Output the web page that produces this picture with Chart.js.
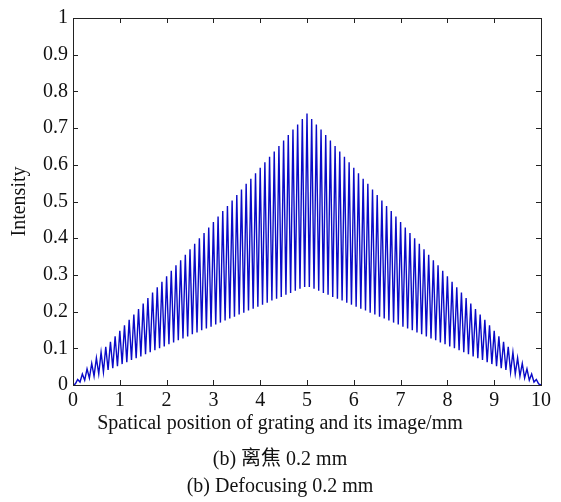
<!DOCTYPE html>
<html>
<head>
<meta charset="utf-8">
<script src="https://cdn.jsdelivr.net/npm/chart.js@4.4.1/dist/chart.umd.min.js"></script>
<style>
  body { margin: 0; background: #fff; }
  canvas { display: block; }
</style>
</head>
<body>
<canvas id="myChart" width="561" height="502"></canvas>
<script>
// fringe maxima (bright lines) and minima
const peakPos = [0, 0.1, 0.2, 0.3, 0.4, 0.5, 0.6, 0.7, 0.8, 0.9, 1, 1.1, 1.2, 1.3, 1.4, 1.5, 1.6, 1.7, 1.8, 1.9,
  2, 2.1, 2.2, 2.3, 2.4, 2.5, 2.6, 2.7, 2.8, 2.9, 3, 3.1, 3.2, 3.3, 3.4, 3.5, 3.6, 3.7, 3.8, 3.9,
  4, 4.1, 4.2, 4.3, 4.4, 4.5, 4.6, 4.7, 4.8, 4.9, 5, 5.1, 5.2, 5.3, 5.4, 5.5, 5.6, 5.7, 5.8, 5.9,
  6, 6.1, 6.2, 6.3, 6.4, 6.5, 6.6, 6.7, 6.8, 6.9, 7, 7.1, 7.2, 7.3, 7.4, 7.5, 7.6, 7.7, 7.8, 7.9,
  8, 8.1, 8.2, 8.3, 8.4, 8.5, 8.6, 8.7, 8.8, 8.9, 9, 9.1, 9.2, 9.3, 9.4, 9.5, 9.6, 9.7, 9.8, 9.9, 10];
const peakVal = [0, 0.015, 0.030, 0.044, 0.059, 0.074, 0.089, 0.104, 0.118, 0.133, 0.148, 0.163, 0.178, 0.192, 0.207, 0.222, 0.237, 0.252, 0.266, 0.281,
  0.296, 0.311, 0.326, 0.340, 0.355, 0.370, 0.385, 0.400, 0.414, 0.429, 0.444, 0.459, 0.474, 0.488, 0.503, 0.518, 0.533, 0.548, 0.562, 0.577,
  0.592, 0.607, 0.622, 0.636, 0.651, 0.666, 0.681, 0.696, 0.710, 0.725, 0.740, 0.725, 0.710, 0.696, 0.681, 0.666, 0.651, 0.636, 0.622, 0.607,
  0.592, 0.577, 0.562, 0.548, 0.533, 0.518, 0.503, 0.488, 0.474, 0.459, 0.444, 0.429, 0.414, 0.400, 0.385, 0.370, 0.355, 0.340, 0.326, 0.311,
  0.296, 0.281, 0.266, 0.252, 0.237, 0.222, 0.207, 0.192, 0.178, 0.163, 0.148, 0.133, 0.118, 0.104, 0.089, 0.074, 0.059, 0.044, 0.030, 0.015, 0];
const troughPos = [0.05, 0.15, 0.25, 0.35, 0.45, 0.55, 0.65, 0.75, 0.85, 0.95, 1.05, 1.15, 1.25, 1.35, 1.45, 1.55, 1.65, 1.75, 1.85, 1.95,
  2.05, 2.15, 2.25, 2.35, 2.45, 2.55, 2.65, 2.75, 2.85, 2.95, 3.05, 3.15, 3.25, 3.35, 3.45, 3.55, 3.65, 3.75, 3.85, 3.95,
  4.05, 4.15, 4.25, 4.35, 4.45, 4.55, 4.65, 4.75, 4.85, 4.95, 5.05, 5.15, 5.25, 5.35, 5.45, 5.55, 5.65, 5.75, 5.85, 5.95,
  6.05, 6.15, 6.25, 6.35, 6.45, 6.55, 6.65, 6.75, 6.85, 6.95, 7.05, 7.15, 7.25, 7.35, 7.45, 7.55, 7.65, 7.75, 7.85, 7.95,
  8.05, 8.15, 8.25, 8.35, 8.45, 8.55, 8.65, 8.75, 8.85, 8.95, 9.05, 9.15, 9.25, 9.35, 9.45, 9.55, 9.65, 9.75, 9.85, 9.95];
const troughVal = [0.003, 0.008, 0.013, 0.019, 0.024, 0.030, 0.035, 0.041, 0.046, 0.051, 0.057, 0.062, 0.068, 0.073, 0.078, 0.084, 0.089, 0.095, 0.100, 0.105,
  0.111, 0.116, 0.122, 0.127, 0.132, 0.138, 0.143, 0.149, 0.154, 0.159, 0.165, 0.170, 0.176, 0.181, 0.186, 0.192, 0.197, 0.203, 0.208, 0.213,
  0.219, 0.224, 0.230, 0.235, 0.240, 0.246, 0.251, 0.257, 0.262, 0.267, 0.267, 0.262, 0.257, 0.251, 0.246, 0.240, 0.235, 0.230, 0.224, 0.219,
  0.213, 0.208, 0.203, 0.197, 0.192, 0.186, 0.181, 0.176, 0.170, 0.165, 0.159, 0.154, 0.149, 0.143, 0.138, 0.132, 0.127, 0.122, 0.116, 0.111,
  0.105, 0.100, 0.095, 0.089, 0.084, 0.078, 0.073, 0.068, 0.062, 0.057, 0.051, 0.046, 0.041, 0.035, 0.030, 0.024, 0.019, 0.013, 0.008, 0.003];

const xLabel = 'Spatical position of grating and its image/mm';
const yLabel = 'Intensity';
const captions = ['(b) 离焦 0.2 mm', '(b) Defocusing 0.2 mm'];

// merge maxima and minima into one curve, ordered by position
let points = [];
for (let i = 0; i < peakPos.length; i++) points.push({x: peakPos[i], y: peakVal[i]});
for (let i = 0; i < troughPos.length; i++) points.push({x: troughPos[i], y: troughVal[i]});
points.sort((a, b) => a.x - b.x);

const serif = "'Liberation Serif', 'Times New Roman', 'Noto Sans CJK SC', serif";

// box around the plot with inward ticks on all four sides
const frame = {
  id: 'frame',
  afterDraw(chart) {
    const {ctx, chartArea: a, scales} = chart;
    ctx.save();
    ctx.strokeStyle = '#222';
    ctx.lineWidth = 1;
    ctx.strokeRect(a.left + 0.5, a.top + 0.5, a.right - a.left, a.bottom - a.top);
    ctx.beginPath();
    scales.x.ticks.forEach(t => {
      let px = Math.round(scales.x.getPixelForValue(t.value)) + 0.5;
      ctx.moveTo(px, a.bottom); ctx.lineTo(px, a.bottom - 5);
      ctx.moveTo(px, a.top); ctx.lineTo(px, a.top + 5);
    });
    scales.y.ticks.forEach(t => {
      let py = Math.round(scales.y.getPixelForValue(t.value)) + 0.5;
      ctx.moveTo(a.left, py); ctx.lineTo(a.left + 5, py);
      ctx.moveTo(a.right, py); ctx.lineTo(a.right - 5, py);
    });
    ctx.stroke();
    ctx.restore();
  }
};

const ctx = document.getElementById('myChart');

new Chart(ctx, {
  type: 'line',
  data: {
    datasets: [{
      data: points,
      borderColor: 'rgb(10, 10, 200)',
      borderWidth: 1.4,
      pointRadius: 0,
      tension: 0,
    }]
  },
  options: {
    responsive: false,
    animation: false,
    // left padding moves the centre of the bottom texts, y axis is narrowed to keep the plot at x=73
    layout: { padding: { top: 18, right: 20, left: 19, bottom: 0 } },
    plugins: {
      legend: { display: false },
      tooltip: { enabled: false },
      subtitle: {
        display: true,
        position: 'bottom',
        text: xLabel,
        color: '#111',
        font: { family: serif, size: 20 },
        padding: { top: 1.5, bottom: 11 },
      },
      title: {
        display: true,
        position: 'bottom',
        text: captions,
        color: '#111',
        font: { family: serif, size: 20, weight: 'normal', lineHeight: 1.35 },
        padding: { top: 0, bottom: 1.5 },
      },
    },
    scales: {
      x: {
        type: 'linear',
        min: 0,
        max: 10,
        ticks: { stepSize: 1, color: '#111', padding: 4, maxRotation: 0, font: { family: serif, size: 20 } },
        grid: { drawOnChartArea: false, drawTicks: false },
        border: { display: false },
        afterFit: s => { s.height = 25; },
      },
      y: {
        min: 0,
        max: 1,
        ticks: {
          stepSize: 0.1, color: '#111', padding: 5, font: { family: serif, size: 20 },
          callback: v => String(Number(v.toFixed(1))),
        },
        grid: { drawOnChartArea: false, drawTicks: false },
        border: { display: false },
        title: { display: true, text: yLabel, color: '#111', font: { family: serif, size: 20 }, padding: { top: -11, bottom: 0 } },
        afterFit: s => { s.width = 54; },
      },
    }
  },
  plugins: [frame]
});
</script>
</body>
</html>
